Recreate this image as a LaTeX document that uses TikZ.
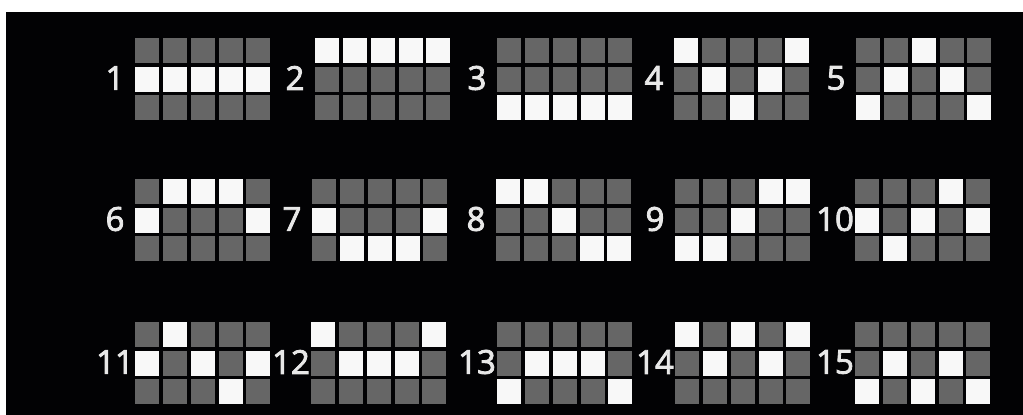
\documentclass[tikz,border=0pt]{standalone}
\usepackage{fontspec}
\setmainfont{Open Sans}
\newfontfamily\labfont[FakeBold=2.5]{Open Sans}
\definecolor{cellgray}{RGB}{102,102,102}
\definecolor{cellwhite}{RGB}{248,248,248}
\definecolor{labwhite}{RGB}{232,232,232}
\definecolor{bgblack}{RGB}{2,2,4}
\tikzset{
  cell0/.style={rectangle,fill=cellgray,draw=none,inner sep=0pt,minimum width=24pt,minimum height=25pt,anchor=north west},
  cell1/.style={cell0,fill=cellwhite},
  lab/.style={text=labwhite,font=\labfont\fontsize{33}{33}\selectfont,inner sep=0pt}
}
\begin{document}
\begin{tikzpicture}[x=1pt,y=-1pt]
\useasboundingbox (0,0) rectangle (1023,415);
\fill[white] (0,0) rectangle (1023,415);
\fill[bgblack] (6,12) rectangle (1023,415);
\foreach \p/\px/\py/\cells in {
  1/135/38/{0,0,0,0,0,1,1,1,1,1,0,0,0,0,0},
  2/315/38/{1,1,1,1,1,0,0,0,0,0,0,0,0,0,0},
  3/497/38/{0,0,0,0,0,0,0,0,0,0,1,1,1,1,1},
  4/674/38/{1,0,0,0,1,0,1,0,1,0,0,0,1,0,0},
  5/856/38/{0,0,1,0,0,0,1,0,1,0,1,0,0,0,1},
  6/135/179/{0,1,1,1,0,1,0,0,0,1,0,0,0,0,0},
  7/312/179/{0,0,0,0,0,1,0,0,0,1,0,1,1,1,0},
  8/496/179/{1,1,0,0,0,0,0,1,0,0,0,0,0,1,1},
  9/675/179/{0,0,0,1,1,0,0,1,0,0,1,1,0,0,0},
  10/855/179/{0,0,0,1,0,1,0,1,0,1,0,1,0,0,0},
  11/135/322/{0,1,0,0,0,1,0,1,0,1,0,0,0,1,0},
  12/311/322/{1,0,0,0,1,0,1,1,1,0,0,0,0,0,0},
  13/497/322/{0,0,0,0,0,0,1,1,1,0,1,0,0,0,1},
  14/675/322/{1,0,1,0,1,0,1,0,1,0,0,0,0,0,0},
  15/855/322/{0,0,0,0,0,0,1,0,1,0,1,0,1,0,1}}{
  \foreach \v [count=\i from 0,
               evaluate=\i as \col using {mod(\i,5)},
               evaluate=\i as \row using {int(\i/5)}] in \cells {
    \node[cell\v] (p\p-\i) at ({\px+\col*27.8},{\py+\row*28.5}) {};
  }
  \node[lab] (l\p) at ({\px-20},{\py+40}) {\p};
}
\end{tikzpicture}
\end{document}
